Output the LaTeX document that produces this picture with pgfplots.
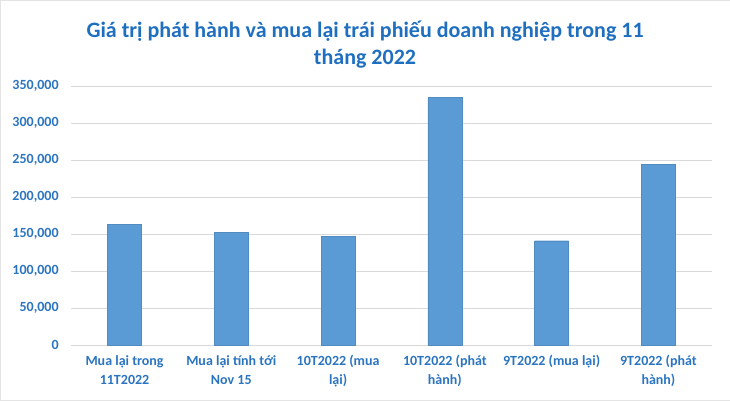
\documentclass[border=0pt]{standalone}
\usepackage{fontspec}
\setmainfont{Carlito}
\usepackage{pgfplots}
\pgfplotsset{compat=1.18}
\definecolor{barblue}{HTML}{5B9BD5}
\definecolor{txtblue}{HTML}{2A74C0}
\definecolor{titleblue}{HTML}{1F6FC0}
\definecolor{gridgray}{HTML}{D9D9D9}

\begin{document}
\begin{tikzpicture}
	% page frame, same size as the reference
	\path[use as bounding box, draw=gridgray!70] (0pt,0pt) rectangle (730pt,400pt);
	\node[font=\bfseries\fontsize{22}{27}\selectfont, text=titleblue, align=center]
		at (365pt,356pt) {Giá trị phát hành và mua lại trái phiếu doanh nghiệp trong 11\\tháng 2022};
	\begin{axis}[
		at={(71pt,55pt)}, anchor=south west,
		scale only axis, width=641pt, height=259pt,
		ybar, bar width=34pt,
		enlargelimits=false,
		xmin=-0.5, xmax=5.5,
		ymin=0, ymax=350000,
		ytick={0,50000,...,350000},
		ymajorgrids,
		major grid style={draw=gridgray, line width=0.9pt},
		axis x line*=bottom,
		x axis line style={draw=gridgray, line width=0.9pt},
		axis y line*=left,
		y axis line style={draw=none},
		major tick length=0pt,
		scaled y ticks=false,
		/pgf/number format/.cd, fixed, 1000 sep={,}, assume math mode=true,
		/pgfplots/.cd,
		yticklabel style={text=txtblue, font=\bfseries\fontsize{14}{16}\selectfont, xshift=-9pt},
		xtick=data,
		xticklabels={
			{Mua lại trong\\11T2022},
			{Mua lại tính tới\\Nov 15},
			{10T2022 (mua\\lại)},
			{10T2022 (phát\\hành)},
			{9T2022 (mua lại)},
			{9T2022 (phát\\hành)}
		},
		xticklabel style={text=txtblue, font=\bfseries\fontsize{14}{19}\selectfont,
			align=center, anchor=north, yshift=-7pt},
	]
	\addplot[fill=barblue, draw=barblue!90!black, line width=0.4pt] coordinates
	{(0,163500) (1,152000) (2,147000) (3,334500) (4,141000) (5,244000)};
	\end{axis}
\end{tikzpicture}
\end{document}
